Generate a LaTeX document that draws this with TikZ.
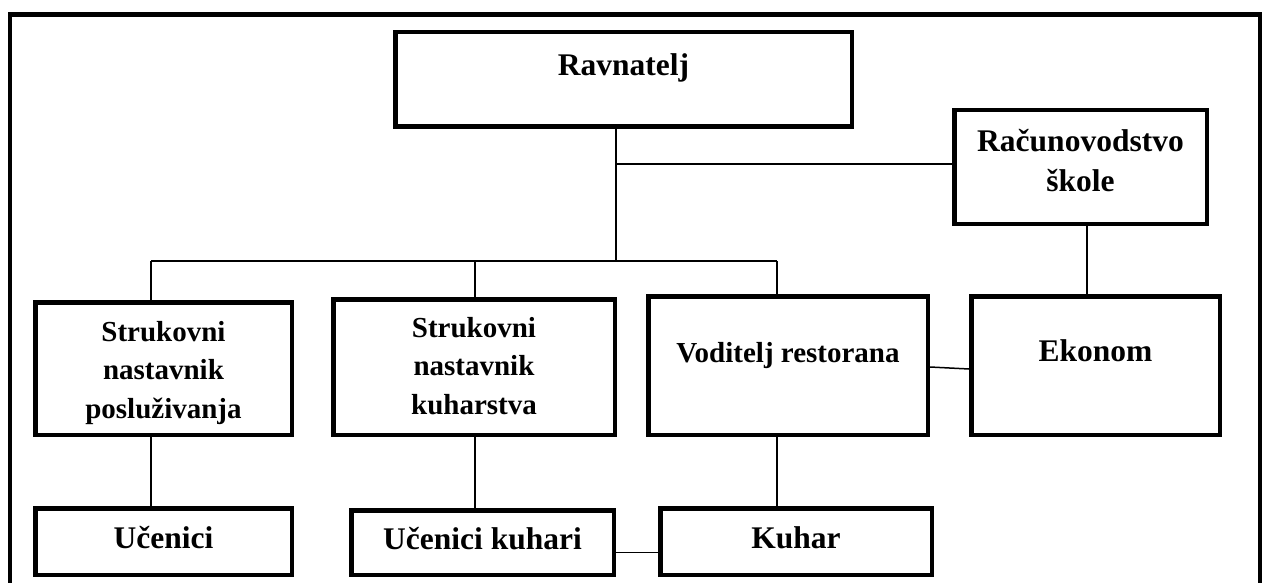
\documentclass[tikz,border=0pt]{standalone}
\usepackage{fontspec}
\setmainfont{Liberation Serif}
\newcommand{\mlines}[1]{\begin{tabular}[t]{@{}c@{}}#1\end{tabular}}
\begin{document}
\begin{tikzpicture}[x=1pt,y=-1pt,
  box/.style={draw, line width=4.5pt, rectangle, inner sep=0pt,
    font=\fontsize{31.5}{40}\selectfont\bfseries, align=center, text height=22pt},
  smallbox/.style={box, font=\fontsize{29}{38.5}\selectfont\bfseries},
  conn/.style={line width=1.5pt}]
\clip (0,0) rectangle (1264,583);
\draw[line width=4.5pt] (9.8,14.7) rectangle (1260,640);
% boxes
\node[box, minimum width=456.5pt, minimum height=94.5pt, text depth=29pt] (rav) at (623.5,79.5) {Ravnatelj};
\node[box, minimum width=252.5pt, minimum height=113.5pt, text depth=52pt] (rac) at (1080.5,167) {\mlines{Računovodstvo\\škole}};
\node[smallbox, minimum width=256.5pt, minimum height=132.5pt, text depth=77pt] (b1) at (163.5,368.5) {\mlines{Strukovni\\nastavnik\\posluživanja}};
\node[smallbox, minimum width=281.5pt, minimum height=135.5pt, text depth=82pt] (b2) at (474,367) {\mlines{Strukovni\\nastavnik\\kuharstva}};
\node[smallbox, minimum width=279.5pt, minimum height=138.5pt, text depth=29pt] (vod) at (788,365.5) {Voditelj restorana};
\node[box, minimum width=248.5pt, minimum height=138.5pt, text depth=31pt] (eko) at (1095.5,365.5) {Ekonom};
\node[box, minimum width=256.5pt, minimum height=66.5pt, text depth=9pt] (uc) at (163.5,541.5) {Učenici};
\node[box, minimum width=262.5pt, minimum height=64.5pt, text depth=9pt] (uk) at (482.5,542.5) {Učenici kuhari};
\node[box, minimum width=271.5pt, minimum height=66.5pt, text depth=9pt] (kuh) at (796,541.5) {Kuhar};
% junctions
\coordinate (jt) at (616,164);
\coordinate (jb) at (616,261);
\coordinate (jl) at (151,261);
\coordinate (jm) at (475,261);
\coordinate (jr) at (777,261);
\coordinate (xr) at (1087,250);
% connectors
\draw[conn] (rav.south -| jb) -- (jb);
\draw[conn] (jl) -- (jr);
\draw[conn] (jl) -- (b1.north -| jl);
\draw[conn] (jm) -- (b2.north -| jm);
\draw[conn] (jr) -- (vod.north -| jr);
\draw[conn] (jt) -- (rac.west |- jt);
\draw[conn] (rac.south -| xr) -- (eko.north -| xr);
\draw[conn] ([yshift=-1.5pt]vod.east) -- ([yshift=-3.5pt]eko.west);
\draw[conn] (b1.south -| jl) -- (uc.north -| jl);
\draw[conn] (b2.south -| jm) -- (uk.north -| jm);
\draw[conn] (vod.south -| jr) -- (kuh.north -| jr);
\draw[conn] ([yshift=-10pt]uk.east) -- ([yshift=-11pt]kuh.west);
\end{tikzpicture}
\end{document}
